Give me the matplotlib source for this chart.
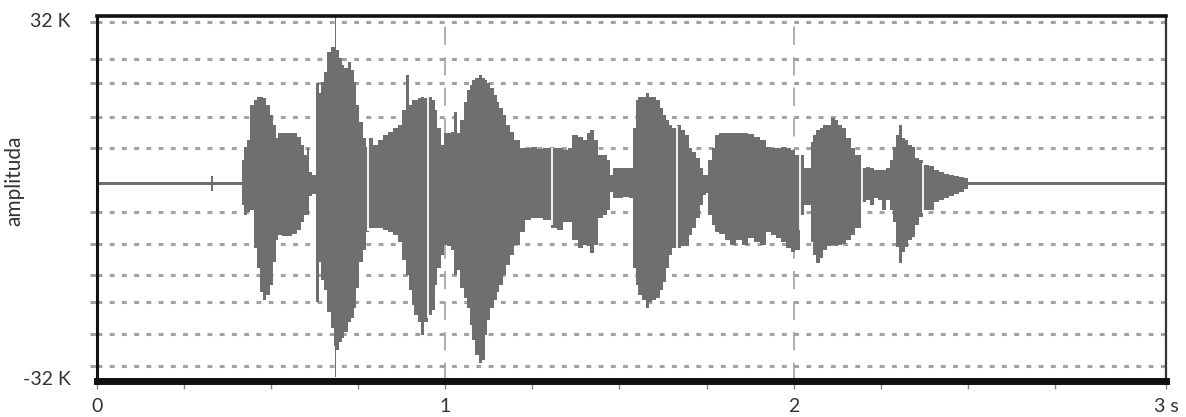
import numpy as np
import matplotlib
matplotlib.use("Agg")
import matplotlib.pyplot as plt

# ------------------------------------------------------------------
# waveform envelope (time in s, amplitude in K)
# ------------------------------------------------------------------
time_s = [
    0.000, 0.319, 0.324, 0.330, 0.336, 0.411, 0.419, 0.425, 0.434, 0.445,
    0.454, 0.462, 0.474, 0.482, 0.491, 0.500, 0.508, 0.517, 0.525, 0.540,
    0.554, 0.568, 0.583, 0.589, 0.597, 0.606, 0.614, 0.623, 0.632, 0.640,
    0.649, 0.657, 0.666, 0.675, 0.683, 0.686, 0.689, 0.698, 0.706, 0.715,
    0.724, 0.732, 0.741, 0.749, 0.758, 0.767, 0.775, 0.784, 0.798, 0.813,
    0.827, 0.841, 0.856, 0.870, 0.884, 0.893, 0.899, 0.907, 0.916, 0.925,
    0.933, 0.942, 0.956, 0.965, 0.973, 0.982, 0.991, 0.999, 1.011, 1.022,
    1.028, 1.039, 1.048, 1.057, 1.065, 1.074, 1.082, 1.091, 1.100, 1.108,
    1.117, 1.125, 1.134, 1.143, 1.151, 1.160, 1.171, 1.180, 1.191, 1.206,
    1.220, 1.237, 1.255, 1.272, 1.289, 1.315, 1.329, 1.344, 1.358, 1.372,
    1.387, 1.401, 1.410, 1.421, 1.433, 1.444, 1.459, 1.467, 1.476, 1.484,
    1.502, 1.519, 1.533, 1.542, 1.550, 1.559, 1.571, 1.579, 1.588, 1.599,
    1.611, 1.619, 1.628, 1.637, 1.645, 1.657, 1.671, 1.682, 1.694, 1.703,
    1.714, 1.726, 1.734, 1.743, 1.751, 1.760, 1.769, 1.780, 1.794, 1.809,
    1.826, 1.843, 1.860, 1.878, 1.895, 1.912, 1.927, 1.941, 1.955, 1.970,
    1.984, 1.998, 2.010, 2.024, 2.033, 2.044, 2.053, 2.061, 2.070, 2.079,
    2.090, 2.102, 2.113, 2.122, 2.133, 2.145, 2.156, 2.171, 2.182, 2.202,
    2.214, 2.225, 2.237, 2.248, 2.260, 2.271, 2.280, 2.288, 2.297, 2.306,
    2.314, 2.323, 2.334, 2.343, 2.354, 2.363, 2.380, 2.395, 2.409, 2.423,
    2.438, 2.452, 2.466, 2.481, 2.495, 2.507, 3.069,
]
upper_k = [
    0.29, 0.29, 0.29, 1.34, 0.29, 0.29, 4.41, 6.90, 8.24, 14.94,
    15.90, 16.48, 16.48, 16.28, 14.94, 13.03, 11.11, 8.62, 9.58, 9.58,
    9.58, 9.58, 8.81, 7.28, 5.36, 6.70, 2.11, 1.53, 19.16, 17.24,
    19.35, 21.26, 25.10, 26.05, 26.05, 31.80, 25.48, 23.95, 22.61, 22.03,
    23.18, 21.65, 19.35, 14.94, 11.69, 8.62, 6.90, 8.62, 7.28, 8.24,
    9.20, 9.77, 10.54, 11.11, 13.98, 20.69, 14.94, 15.90, 15.90, 16.28,
    16.48, 16.28, 16.48, 15.90, 13.98, 10.54, 7.28, 9.58, 9.58, 9.77,
    13.60, 9.58, 12.07, 15.52, 17.82, 18.77, 19.73, 20.11, 20.69, 20.11,
    19.73, 19.16, 18.20, 16.86, 15.52, 14.37, 13.03, 11.11, 9.77, 8.24,
    6.70, 6.70, 6.90, 6.51, 6.70, 6.70, 6.70, 6.32, 6.70, 9.20,
    8.81, 8.24, 9.58, 10.15, 8.24, 5.36, 5.36, 4.41, 1.53, 2.87,
    2.87, 2.87, 2.87, 10.54, 15.90, 16.48, 16.48, 17.24, 16.48, 16.48,
    15.90, 14.37, 13.03, 12.07, 11.11, 10.54, 11.11, 10.15, 9.20, 6.70,
    5.94, 4.79, 2.87, 1.53, 1.53, 4.41, 6.70, 9.20, 9.58, 9.58,
    9.58, 9.58, 9.58, 9.39, 8.81, 8.24, 6.90, 6.70, 6.70, 6.90,
    6.70, 6.32, 5.36, 5.36, 2.87, 2.87, 7.85, 9.20, 10.15, 10.54,
    11.11, 11.11, 12.45, 12.07, 11.11, 10.54, 8.62, 6.70, 5.36, 2.87,
    3.07, 2.87, 2.49, 2.49, 2.49, 2.87, 4.41, 6.90, 9.20, 11.11,
    8.62, 8.24, 7.28, 6.90, 4.79, 4.41, 3.45, 3.26, 2.49, 2.11,
    1.72, 1.53, 1.34, 1.15, 0.96, 0.29, 0.29,
]
lower_k = [
    -0.29, -0.29, -0.29, -1.53, -0.29, -0.29, -4.21, -6.13, -5.56, -5.17,
    -12.45, -16.28, -20.88, -22.41, -21.46, -19.54, -15.13, -10.92, -9.96, -10.15,
    -10.15, -9.77, -9.00, -7.47, -6.13, -6.13, -2.49, -2.11, -22.80, -15.13,
    -18.58, -20.50, -24.71, -27.78, -31.23, -37.16, -31.99, -30.46, -29.69, -28.54,
    -26.63, -25.86, -23.95, -20.11, -15.13, -12.84, -9.39, -8.62, -8.62, -8.62,
    -9.00, -9.39, -9.96, -11.30, -14.75, -17.62, -20.50, -23.37, -25.29, -26.63,
    -29.12, -26.63, -25.29, -24.33, -19.54, -16.28, -13.79, -11.88, -12.07, -12.84,
    -17.62, -16.67, -20.11, -22.03, -23.95, -27.20, -30.08, -32.95, -34.48, -33.91,
    -29.12, -26.25, -23.95, -22.41, -20.88, -19.54, -17.62, -15.71, -13.79, -11.88,
    -9.39, -7.09, -6.70, -6.70, -7.09, -8.62, -9.00, -7.47, -7.47, -10.92,
    -12.45, -11.88, -12.07, -13.41, -11.88, -6.70, -6.13, -5.17, -1.72, -2.87,
    -2.87, -2.68, -2.87, -16.28, -19.54, -21.46, -22.41, -23.95, -22.80, -22.41,
    -22.03, -20.50, -18.97, -16.28, -13.79, -12.45, -12.45, -12.07, -12.07, -9.96,
    -8.62, -6.70, -4.21, -2.30, -1.92, -6.13, -8.05, -9.39, -9.77, -10.92,
    -11.88, -10.92, -11.88, -10.54, -11.30, -11.88, -9.39, -9.96, -10.54, -11.30,
    -12.45, -13.22, -12.84, -6.13, -4.21, -4.21, -11.30, -13.79, -15.33, -14.37,
    -12.84, -12.07, -11.88, -12.07, -11.88, -11.69, -10.92, -9.96, -8.62, -3.64,
    -3.26, -4.21, -2.87, -3.26, -5.17, -3.26, -5.17, -7.47, -12.26, -15.33,
    -13.22, -12.26, -10.92, -10.34, -8.05, -6.51, -5.17, -5.17, -3.64, -3.26,
    -2.87, -2.49, -2.11, -1.72, -1.15, -0.29, -0.29,
]
# thin silent gaps inside the waveform
gap_times = [0.778, 0.950, 1.306, 1.665, 2.018, 2.196, 2.372]

# dotted amplitude levels (K)
grid_levels = [30.84, 23.75, 19.16, 12.64, 6.70,
               -5.56, -11.69, -17.62, -22.80, -28.93, -35.06]
time_grid = [1, 2]
x_ticks = [0, 1, 2, 3.069]
x_tick_labels = ["0", "1", "2", "3 s"]
y_ticks = [-37.4, 31.2]
y_tick_labels = ["-32 K", "32 K"]

plt.rcParams["font.family"] = ["Lato", "DejaVu Sans"]
text_color = "#333333"
wave_color = "#6f6f6f"
grid_color = "#a2a2a2"

fig = plt.figure(figsize=(11.86, 4.17), dpi=100)
ax = fig.add_axes([97 / 1186, 1 - 381 / 417, (1166 - 97) / 1186, (381 - 16) / 417])
ax.set_xlim(0, 3.069)
ax.set_ylim(-37.93, 32.0)

# grid
for lvl in grid_levels:
    ax.axhline(lvl, color=grid_color, lw=2.2, linestyle=(0, (1.6, 2.4)), zorder=1)
for tg in time_grid:
    ax.axvline(tg, color="#999999", lw=1.1, linestyle=(0, (12, 8)), zorder=1)

# waveform
t = np.array(time_s)
up = np.array(upper_k)
lo = np.array(lower_k)
ax.fill_between(t, lo, up, step="mid", color=wave_color, lw=0, zorder=2)
g = np.array(gap_times)
ax.vlines(g, np.interp(g, t, lo), np.interp(g, t, up), color="white", lw=1.3, zorder=3)

# spines
ax.spines["top"].set_linewidth(2.6)
ax.spines["bottom"].set_linewidth(5.0)
ax.spines["left"].set_linewidth(2.2)
ax.spines["right"].set_linewidth(1.6)
ax.spines["right"].set_color("#333333")
for s in ["top", "bottom", "left"]:
    ax.spines[s].set_color("#111111")
for s in ax.spines.values():
    s.set_zorder(4)

# ticks
ax.set_xticks(x_ticks)
ax.set_xticklabels(x_tick_labels)
ax.set_xticks(np.arange(0.25, 3.0, 0.25), minor=True)
ax.tick_params(axis="x", which="major", length=6, width=1, color="#888888",
               pad=6, labelsize=14, labelcolor=text_color)
ax.tick_params(axis="x", which="minor", length=6, width=1, color="#888888")
ax.set_yticks(y_ticks)
ax.set_yticklabels(y_tick_labels)
ax.set_yticks(grid_levels, minor=True)
ax.tick_params(axis="y", which="major", length=0, pad=19, labelsize=14, labelcolor=text_color)
ax.tick_params(axis="y", which="minor", length=5, width=2.2, color=grid_color)

fig.text(14 / 1186, 1 - 181 / 417, "amplituda", rotation=90, ha="center", va="center",
         fontsize=15, color=text_color)

fig.savefig("out.png", dpi=100, facecolor="white")
